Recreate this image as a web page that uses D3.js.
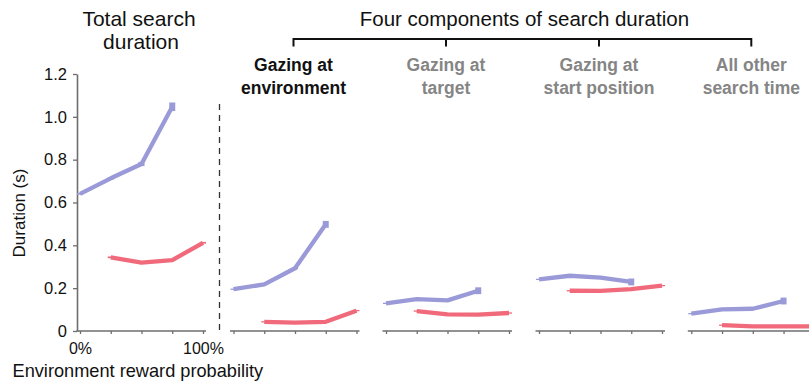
<!DOCTYPE html>
<html>
<head>
<meta charset="utf-8">
<script src="https://cdn.jsdelivr.net/npm/d3@7/dist/d3.min.js"></script>
<style>
  html, body { margin: 0; padding: 0; background: #fff; }
  svg { display: block; font-family: "Liberation Sans", Arial, sans-serif; }
</style>
</head>
<body>
<svg id="chart" width="809" height="386"></svg>
<script>
// Environment reward probability levels (x positions) and their labels
const probs = [0, 0.25, 0.5, 0.75, 1];
const probLabels = ["0%", "", "", "", "100%"];

// Series A is measured at 0–75%, series B at 25–100%
const probsA = [0, 0.25, 0.5, 0.75];
const probsB = [0.25, 0.5, 0.75, 1];

// Total search duration (s)
const totalA = [0.640, 0.713, 0.780, 1.047];
const totalB = [0.344, 0.319, 0.331, 0.412];
const totalSemA = [0.004, 0.006, 0.01, 0.02];
const totalSemB = [0.004, 0.003, 0.003, 0.004];

// Components of search duration (s)
const envA = [0.195, 0.218, 0.293, 0.498];
const envB = [0.043, 0.039, 0.043, 0.095];
const targetA = [0.129, 0.149, 0.143, 0.188];
const targetB = [0.093, 0.078, 0.076, 0.084];
const startA = [0.241, 0.258, 0.249, 0.229];
const startB = [0.188, 0.187, 0.196, 0.212];
const otherA = [0.081, 0.101, 0.104, 0.140];
const otherB = [0.027, 0.022, 0.022, 0.022];
const compSemA = [0.003, 0.003, 0.005, 0.016];
const compSemB = [0.003, 0.003, 0.003, 0.003];

const componentTitles = [
  ["Gazing at", "environment"],
  ["Gazing at", "target"],
  ["Gazing at", "start position"],
  ["All other", "search time"]
];
const yTicks = [0, 0.2, 0.4, 0.6, 0.8, 1.0, 1.2];

// ---- styling / layout ----
const colA = "#9a9ad8";
const colB = "#f06a7c";
const axisCol = "#6e6e6e";
const panelWidth = 123;
const totalLeft = 80;
const compLefts = [233.5, 386, 539, 691.3];

const svg = d3.select("#chart");
const y = d3.scaleLinear().domain([0, 1.2]).range([331, 74]);

function drawSeries(g, x, xs, vals, sems, color) {
  const pts = xs.map((p, i) => ({ p, v: vals[i], s: sems[i] }));
  g.append("path")
    .datum(pts)
    .attr("fill", "none")
    .attr("stroke", color)
    .attr("stroke-width", 4.3)
    .attr("stroke-linejoin", "round")
    .attr("d", d3.line().x(d => x(d.p)).y(d => y(d.v)));
  // error bars (mean ± s.e.m.)
  g.selectAll(null)
    .data(pts)
    .enter().append("rect")
    .attr("x", d => x(d.p) - 3)
    .attr("width", 6)
    .attr("y", d => y(d.v + d.s))
    .attr("height", d => y(d.v - d.s) - y(d.v + d.s))
    .attr("fill", color);
}

function drawXAxis(x, labels) {
  const ax = d3.axisBottom(x)
    .tickValues(probs)
    .tickSize(3)
    .tickSizeOuter(0)
    .tickPadding(9)
    .tickFormat((d, i) => labels ? labels[i] : "");
  const g = svg.append("g").attr("transform", `translate(0,${y(0)})`).call(ax);
  g.select(".domain").remove();
  g.selectAll(".tick line").attr("stroke", axisCol).attr("stroke-width", 1.3);
  g.selectAll(".tick text").attr("fill", "#111").attr("font-size", 16)
    .attr("font-family", "Liberation Sans, Arial, sans-serif");
  const [r0, r1] = x.range();
  svg.append("line")
    .attr("x1", r0 - 3.5).attr("x2", r1 + 3)
    .attr("y1", y(0)).attr("y2", y(0))
    .attr("stroke", axisCol).attr("stroke-width", 1.6);
}

// ---- Total search duration panel ----
const xTotal = d3.scaleLinear().domain([0, 1]).range([totalLeft, totalLeft + panelWidth]);

const yAx = d3.axisLeft(y)
  .tickValues(yTicks)
  .tickSize(4)
  .tickSizeOuter(0)
  .tickPadding(6)
  .tickFormat(d => d === 0 ? "0" : d3.format(".1f")(d));
const yg = svg.append("g").attr("transform", `translate(${totalLeft - 3},0)`).call(yAx);
yg.select(".domain").attr("stroke", axisCol).attr("stroke-width", 1.6);
yg.selectAll(".tick line").attr("stroke", axisCol).attr("stroke-width", 1.3);
yg.selectAll(".tick text").attr("fill", "#111").attr("font-size", 16.5)
  .attr("font-family", "Liberation Sans, Arial, sans-serif");

drawXAxis(xTotal, probLabels);

const gTotal = svg.append("g");
drawSeries(gTotal, xTotal, probsA, totalA, totalSemA, colA);
drawSeries(gTotal, xTotal, probsB, totalB, totalSemB, colB);

svg.append("text")
  .attr("x", 139).attr("y", 26)
  .attr("text-anchor", "middle").attr("font-size", 21).attr("fill", "#111")
  .text("Total search");
svg.append("text")
  .attr("x", 141).attr("y", 49)
  .attr("text-anchor", "middle").attr("font-size", 21).attr("fill", "#111")
  .text("duration");

svg.append("text")
  .attr("transform", "translate(25,213) rotate(-90)")
  .attr("text-anchor", "middle").attr("font-size", 17).attr("fill", "#111")
  .text("Duration (s)");

svg.append("text")
  .attr("x", 12.5).attr("y", 377)
  .attr("font-size", 18.2).attr("fill", "#111")
  .text("Environment reward probability");

// Divider between total and components
svg.append("line")
  .attr("x1", 219.5).attr("x2", 219.5)
  .attr("y1", 104).attr("y2", 331)
  .attr("stroke", "#333").attr("stroke-width", 1.3)
  .attr("stroke-dasharray", "6,5");

// ---- Component panels ----
const compA = [envA, targetA, startA, otherA];
const compB = [envB, targetB, startB, otherB];
const centers = [];

compLefts.forEach((left, k) => {
  const x = d3.scaleLinear().domain([0, 1]).range([left, left + panelWidth]);
  const c = x(0.5) - 1.5;
  centers.push(c);
  drawXAxis(x, null);
  const g = svg.append("g");
  drawSeries(g, x, probsA, compA[k], compSemA, colA);
  drawSeries(g, x, probsB, compB[k], compSemB, colB);
  componentTitles[k].forEach((line, j) => {
    svg.append("text")
      .attr("x", c).attr("y", 71 + j * 23)
      .attr("text-anchor", "middle")
      .attr("font-size", 17.5).attr("font-weight", "bold")
      .attr("fill", k === 0 ? "#111" : "#858585")
      .text(line);
  });
});

// Bracket grouping the four components
const bTop = 39, bDrop = 46.5;
svg.append("path")
  .attr("d", `M${centers[0]},${bDrop}V${bTop}H${centers[3]}V${bDrop}`)
  .attr("fill", "none").attr("stroke", "#111").attr("stroke-width", 2);
[centers[1], centers[2]].forEach(cx => {
  svg.append("line")
    .attr("x1", cx).attr("x2", cx).attr("y1", bTop).attr("y2", bDrop)
    .attr("stroke", "#111").attr("stroke-width", 2);
});
svg.append("text")
  .attr("x", (centers[0] + centers[3]) / 2 + 2).attr("y", 26)
  .attr("text-anchor", "middle").attr("font-size", 20.5).attr("fill", "#111")
  .text("Four components of search duration");
</script>
</body>
</html>
